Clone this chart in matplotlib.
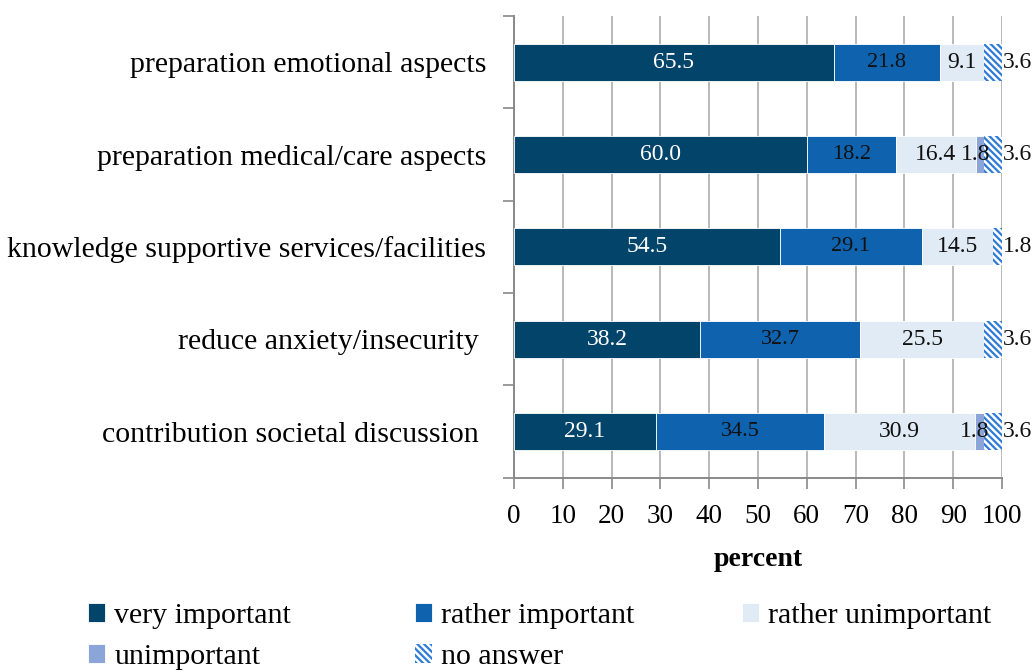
import numpy as np
import matplotlib
matplotlib.use("Agg")
import matplotlib.pyplot as plt
from matplotlib.ticker import MultipleLocator, FixedLocator

categories = [
    "preparation emotional aspects",
    "preparation medical/care aspects",
    "knowledge supportive services/facilities",
    "reduce anxiety/insecurity ",
    "contribution societal discussion ",
]
series_names = ["very important", "rather important", "rather unimportant",
                "unimportant", "no answer"]
very_important = [65.5, 60.0, 54.5, 38.2, 29.1]
rather_important = [21.8, 18.2, 29.1, 32.7, 34.5]
rather_unimportant = [9.1, 16.4, 14.5, 25.5, 30.9]
unimportant = [0.0, 1.8, 0.0, 0.0, 1.8]
no_answer = [3.6, 3.6, 1.8, 3.6, 3.6]

plt.rcParams['font.family'] = ['Liberation Serif', 'DejaVu Serif']
plt.rcParams['hatch.linewidth'] = 1.6

colors = ["#03446A", "#0E62AE", "#E0EBF5", "#8BA5D8", "white"]
txt_colors = ["white", "#111111", "#111111", "#111111", "#111111"]
series = [very_important, rather_important, rather_unimportant, unimportant, no_answer]

fig = plt.figure(figsize=(10.32, 6.72), dpi=100)
ax = fig.add_axes([0.498, 0.289, 0.473, 0.687])

y = np.arange(len(categories))
left = np.zeros(len(categories))
handles = []
for i, (name, vals) in enumerate(zip(series_names, series)):
    vals = np.array(vals)
    if name == "no answer":
        h = ax.barh(y, vals, left=left, height=0.4, color="white",
                    edgecolor="#2E7BD6", hatch="\\\\\\\\\\", linewidth=0, zorder=3,
                    label=name)
    else:
        h = ax.barh(y, vals, left=left, height=0.4, color=colors[i],
                    edgecolor="white", linewidth=0.6, zorder=3, label=name)
    handles.append(h)
    for j, v in enumerate(vals):
        if v <= 0:
            continue
        if name == "no answer":
            ax.text(left[j] + v + 0.2, y[j], f"{v:.1f}", ha="left", va="center",
                    fontsize=17, color=txt_colors[i], zorder=4)
        elif name == "unimportant":
            ax.text(left[j] + v / 2 - 1.0, y[j], f"{v:.1f}", ha="center", va="center",
                    fontsize=17, color=txt_colors[i], zorder=4)
        else:
            ax.text(left[j] + v / 2, y[j], f"{v:.1f}", ha="center", va="center",
                    fontsize=17 if i != 1 else 16, color=txt_colors[i], zorder=4)
    left = left + vals

ax.set_xlim(0, 100)
ax.set_ylim(len(categories) - 0.5, -0.5)
ax.xaxis.set_major_locator(MultipleLocator(10))
ax.set_yticks(y)
ax.set_yticklabels(categories, fontsize=21.5)
ax.yaxis.set_minor_locator(FixedLocator(np.arange(-0.5, len(categories), 1)))
ax.tick_params(axis="y", which="major", length=0, pad=20)
ax.tick_params(axis="y", which="minor", length=8, color="#898989", width=1.2)
ax.tick_params(axis="x", length=8, color="#898989", width=1.2, labelsize=19.5, pad=11)
ax.grid(axis="x", color="#A6A6A6", linewidth=1.1, zorder=0)
ax.set_axisbelow(True)
for s in ["top", "right"]:
    ax.spines[s].set_visible(False)
for s in ["left", "bottom"]:
    ax.spines[s].set_color("#898989")
    ax.spines[s].set_linewidth(1.4)
ax.set_xlabel("percent", fontsize=20, fontweight="bold", labelpad=13)

# legend laid out like the original: fixed-width columns, filled row by row
legend_cols = [[0, 3], [1, 4], [2]]
col_x = [88, 415, 742]
for xpx, idxs in zip(col_x, legend_cols):
    fig.legend([handles[k] for k in idxs], [series_names[k] for k in idxs],
               loc="upper left", bbox_to_anchor=(xpx / 1032, 1 - 603 / 672),
               frameon=False, fontsize=21.5, handlelength=0.58, handleheight=0.58,
               handletextpad=0.3, labelspacing=0.5, borderpad=0, borderaxespad=0)

fig.savefig("out.png", dpi=100)
